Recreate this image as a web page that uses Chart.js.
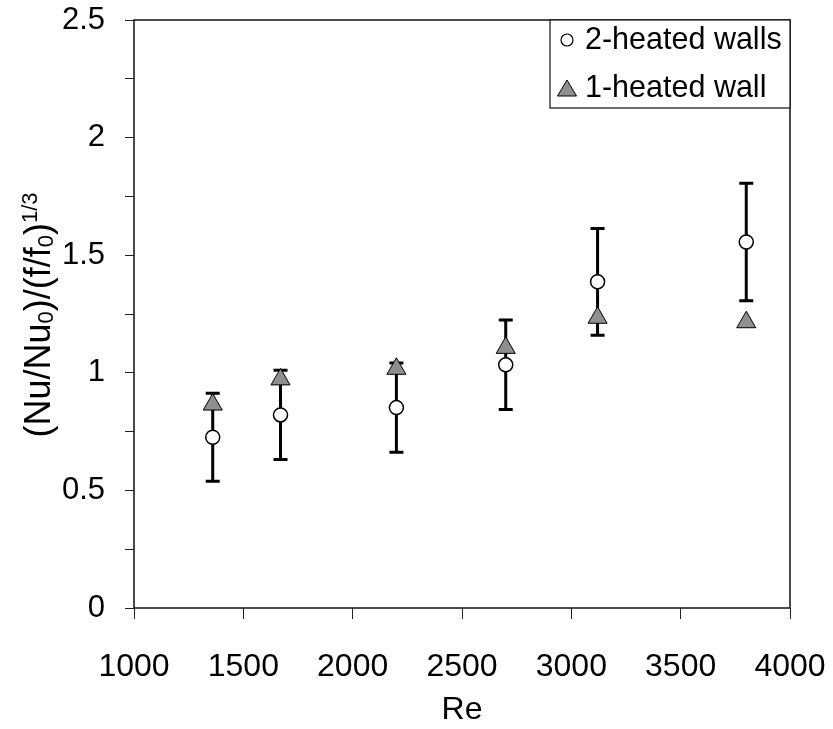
<!DOCTYPE html>
<html>
<head>
<meta charset="utf-8">
<script src="https://cdn.jsdelivr.net/npm/chart.js@4"></script>
<style>
  html, body { margin: 0; padding: 0; background: #fff; }
  #wrap { width: 833px; height: 729px; }
</style>
</head>
<body>
<div id="wrap"><canvas id="chart" width="833" height="729"></canvas></div>
<script>
const re = [1360, 1670, 2200, 2700, 3120, 3800];
const twoWalls = [0.726, 0.821, 0.852, 1.034, 1.387, 1.556];
const twoWallsErr = [0.187, 0.19, 0.19, 0.19, 0.227, 0.25];
const oneWall = [0.865, 0.972, 1.017, 1.106, 1.234, 1.215];
const xTicks = [1000, 1500, 2000, 2500, 3000, 3500, 4000];
const yTicks = [0, 0.5, 1, 1.5, 2, 2.5];

const FONT = "'Liberation Sans', Arial, sans-serif";

// error bars for the 2-heated walls series, drawn under the markers
const errorBars = {
  id: "errorBars",
  beforeDatasetsDraw(chart) {
    const { ctx, scales } = chart;
    ctx.save();
    ctx.strokeStyle = "#000";
    ctx.lineWidth = 3;
    re.forEach((r, i) => {
      const x = scales.x.getPixelForValue(r);
      const yLo = scales.y.getPixelForValue(twoWalls[i] - twoWallsErr[i]);
      const yHi = scales.y.getPixelForValue(twoWalls[i] + twoWallsErr[i]);
      ctx.beginPath();
      ctx.moveTo(x, yLo); ctx.lineTo(x, yHi);
      ctx.moveTo(x - 7, yLo); ctx.lineTo(x + 7, yLo);
      ctx.moveTo(x - 7, yHi); ctx.lineTo(x + 7, yHi);
      ctx.stroke();
    });
    ctx.restore();
  },
};

const frameAndLegend = {
  id: "frameAndLegend",
  afterDraw(chart) {
    const { ctx, chartArea: a } = chart;
    ctx.save();
    ctx.strokeStyle = "#111";
    ctx.lineWidth = 1.5;
    ctx.strokeRect(a.left, a.top, a.right - a.left, a.bottom - a.top);

    // legend box in the top right corner
    const lx = 550, ly = a.top, lw = a.right - lx, lh = 88;
    ctx.fillStyle = "#fff";
    ctx.fillRect(lx, ly, lw, lh);
    ctx.lineWidth = 1.2;
    ctx.strokeRect(lx, ly, lw, lh);

    ctx.beginPath();
    ctx.arc(567, ly + 20, 6, 0, Math.PI * 2);
    ctx.fillStyle = "#fff";
    ctx.fill();
    ctx.lineWidth = 1.2;
    ctx.strokeStyle = "#000";
    ctx.stroke();

    ctx.beginPath();
    ctx.moveTo(567, ly + 60);
    ctx.lineTo(576.5, ly + 76);
    ctx.lineTo(557.5, ly + 76);
    ctx.closePath();
    ctx.fillStyle = "#8f8f8f";
    ctx.fill();
    ctx.lineWidth = 1;
    ctx.stroke();

    ctx.fillStyle = "#000";
    ctx.font = "30.5px " + FONT;
    ctx.textBaseline = "middle";
    ctx.textAlign = "left";
    ctx.fillText("2-heated walls", 585, ly + 21);
    ctx.fillText("1-heated wall", 585, ly + 69);

    // y axis title with subscripts and superscript
    const big = 36, small = 22;
    const parts = [
      ["(Nu/Nu", big, 0], ["0", small, 3], [")/(f/f", big, 0], ["0", small, 3], [")", big, 0], ["1/3", small, -13],
    ];
    let total = 0;
    parts.forEach((p) => {
      ctx.font = p[1] + "px " + FONT;
      p.push(ctx.measureText(p[0]).width);
      total += p[3];
    });
    ctx.translate(50, 315);
    ctx.rotate(-Math.PI / 2);
    ctx.textBaseline = "alphabetic";
    let pos = -total / 2;
    parts.forEach((p) => {
      ctx.font = p[1] + "px " + FONT;
      ctx.fillText(p[0], pos, p[2]);
      pos += p[3];
    });
    ctx.restore();
  },
};

new Chart(document.getElementById("chart"), {
  type: "scatter",
  data: {
    datasets: [
      {
        label: "2-heated walls",
        data: re.map((r, i) => ({ x: r, y: twoWalls[i] })),
        pointStyle: "circle",
        pointRadius: 7,
        pointBackgroundColor: "#fff",
        pointBorderColor: "#000",
        pointBorderWidth: 1.5,
        order: 1,
      },
      {
        label: "1-heated wall",
        data: re.map((r, i) => ({ x: r, y: oneWall[i] })),
        pointStyle: "triangle",
        pointRadius: 11,
        pointBackgroundColor: "#8f8f8f",
        pointBorderColor: "#000",
        pointBorderWidth: 1,
        order: 0,
      },
    ],
  },
  options: {
    responsive: false,
    animation: false,
    layout: { padding: { top: 20, right: 43, left: 0, bottom: 0 } },
    plugins: { legend: { display: false }, tooltip: { enabled: false } },
    scales: {
      x: {
        type: "linear",
        min: 1000,
        max: 4000,
        afterBuildTicks: (s) => { s.ticks = xTicks.map((v) => ({ value: v })); },
        afterFit: (s) => {
          s.height = 121;
          s.paddingLeft = 0;
          s.paddingRight = 0;
        },
        border: { display: false },
        grid: { drawOnChartArea: false, tickLength: 11, color: "#222", lineWidth: 1 },
        ticks: {
          color: "#000",
          font: { family: FONT, size: 32 },
          padding: 29,
          maxRotation: 0,
          autoSkip: false,
          callback: (v) => String(v),
        },
        title: { display: true, text: "Re", color: "#000", font: { family: FONT, size: 32 }, padding: { top: 0, bottom: 0 } },
      },
      y: {
        min: 0,
        max: 2.5,
        afterBuildTicks: (s) => {
          const t = [];
          for (let i = 0; i <= 10; i++) t.push({ value: i * 0.25 });
          s.ticks = t;
        },
        afterFit: (s) => {
          s.width = 134;
          s.paddingTop = 0;
          s.paddingBottom = 0;
        },
        border: { display: false },
        grid: { drawOnChartArea: false, tickLength: 9, color: "#222", lineWidth: 1 },
        ticks: {
          color: "#000",
          font: { family: FONT, size: 31 },
          padding: 20,
          autoSkip: false,
          callback: (v) => (yTicks.includes(v) ? String(v) : ""),
        },
      },
    },
  },
  plugins: [errorBars, frameAndLegend],
});
</script>
</body>
</html>
